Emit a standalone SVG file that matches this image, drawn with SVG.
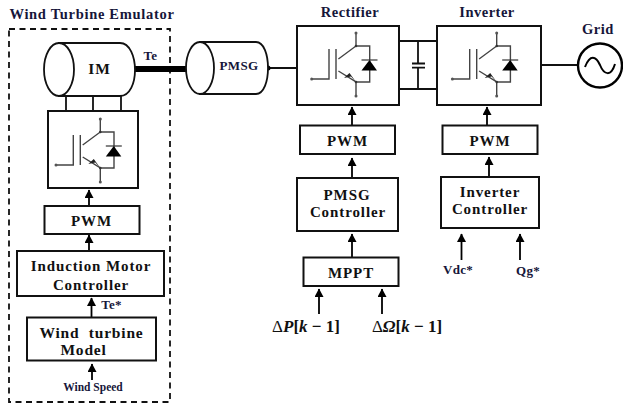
<svg xmlns="http://www.w3.org/2000/svg" xmlns:xlink="http://www.w3.org/1999/xlink" width="623" height="405" viewBox="0 0 623 405">
<style>
text{font-family:"Liberation Serif","Times New Roman",serif;font-weight:bold;fill:#111;text-anchor:middle}
.b{fill:#fff;stroke:#111;stroke-width:2}
.c{fill:#fff;stroke:#111;stroke-width:1.8}
.w{fill:none;stroke:#111;stroke-width:1.8}
.a{fill:none;stroke:#000;stroke-width:1.8;marker-end:url(#ah)}
.s{fill:none;stroke:#444;stroke-width:1.4}
.t15{font-size:15.500px;letter-spacing:.8px}
.t14{font-size:15px;letter-spacing:.9px}
.h{font-size:14.500px;letter-spacing:.5px;fill:#16163a}
.t11{font-size:13px;letter-spacing:.3px;fill:#16163a}
</style>
<defs>
<marker id="ah" markerUnits="userSpaceOnUse" markerWidth="10" markerHeight="10" refX="8" refY="4.500" orient="auto"><path d="M0 0L8.500 4.500L0 9Z" fill="#000"/></marker>
<g id="igbt">
<path class="s" d="M0 0V13L-17.600 26M-20 16V46M-27 16V46H-44.300M-17.600 38L0 49V63M0 13H13.700V49H0"/>
<path d="M-5 43.500L-12 45L-6.500 40L0 49Z" fill="#222"/>
<path d="M5.500 37.500H21L13.500 27Z" fill="#000"/>
<path d="M5.500 27H21.500" stroke="#333" stroke-width="1.200"/>
<circle r="1.500" fill="#555"/><circle cy="63" r="1.500" fill="#555"/><circle cx="-44.300" cy="46" r="1.500" fill="#555"/><circle cy="13" r="1.300" fill="#333"/><circle cy="49" r="1.300" fill="#333"/>
</g>
</defs>

<rect id="emulator-frame" x="9" y="29" width="161" height="373" fill="none" stroke="#111" stroke-width="1.800" stroke-dasharray="6 4.500"/>
<text x="92" y="19" class="h" style="letter-spacing:.7px">Wind Turbine Emulator</text>

<g id="connectors">
<path d="M134 69H187" stroke="#000" stroke-width="6" stroke-linecap="round"/>
<path class="w" d="M66 96V111M93 96V111M121 96V111"/>
<path class="w" d="M268 68H297M399 41H437M399 89H437M418 41V63.500M418 67.700V89M541 65H578"/>
<path class="w" d="M412 63.500H425M412 67.700H425"/>
<circle cx="268" cy="68" r="2.500" fill="#000"/>
<path class="a" d="M89 206V190"/>
<path class="a" d="M89 251V235"/>
<path class="a" d="M91.500 317V298"/>
<path class="a" d="M92 380V364"/>
<path class="a" d="M352 125V107"/>
<path class="a" d="M352 178V158"/>
<path class="a" d="M352 257V234"/>
<path class="a" d="M487 125V107"/>
<path class="a" d="M489 177V157"/>
<path class="a" d="M319 314V289"/>
<path class="a" d="M382 314V289"/>
<path class="a" d="M461.500 260V234"/>
<path class="a" d="M520 260V234"/>
</g>

<g id="im">
<path class="c" d="M59 43H120C130 43 135 57 135 70C135 83 130 96 120 96H59Z"/>
<ellipse class="c" cx="59" cy="69.500" rx="15" ry="26.500"/>
<text x="99.500" y="74" class="t15">IM</text>
</g>
<text id="te" x="150.500" y="60" class="t11">Te</text>

<g id="pmsg">
<path class="c" d="M200 42H256C264 42 268 55 268 68C268 81 264 94 256 94H200Z"/>
<ellipse class="c" cx="200" cy="68" rx="14" ry="26"/>
<text x="239" y="70" class="t11">PMSG</text>
</g>

<g id="converter-left"><rect class="b" x="48" y="111" width="90" height="77"/><use xlink:href="#igbt" href="#igbt" x="100.300" y="119"/></g>
<g id="pwm-left"><rect class="b" x="44.500" y="206" width="95" height="28"/><text x="91.500" y="226" class="t14">PWM</text></g>
<g id="im-controller"><rect class="b" x="17" y="251" width="147" height="45"/><text x="91" y="271" class="t14">Induction Motor</text><text x="91" y="290" class="t14">Controller</text></g>
<text id="te-star" x="111.500" y="309" class="t11">Te*</text>
<g id="wt-model"><rect class="b" x="27" y="317.500" width="129" height="43"/><text x="91.500" y="338" class="t15" xml:space="preserve">Wind  turbine</text><text x="83.500" y="355" class="t15">Model</text></g>
<text id="wind-speed" x="93" y="391" class="t11" style="font-size:11.500px;letter-spacing:0">Wind Speed</text>

<text x="350" y="17" class="h">Rectifier</text>
<g id="rectifier"><rect class="b" x="297" y="26" width="102" height="79"/><use xlink:href="#igbt" href="#igbt" x="356" y="33"/></g>
<g id="pwm-rect"><rect class="b" x="300" y="125.500" width="95" height="28.500"/><text x="347.500" y="146" class="t14">PWM</text></g>
<g id="pmsg-controller"><rect class="b" x="297" y="178" width="101" height="53"/><text x="347" y="200" class="t14">PMSG</text><text x="348" y="217" class="t14">Controller</text></g>
<g id="mppt"><rect class="b" x="303.500" y="257.500" width="95" height="28.500"/><text x="351" y="278" class="t14">MPPT</text></g>
<text id="dp" x="306" y="332" style="font-size:17px"><tspan style="font-weight:normal">Δ</tspan><tspan font-style="italic">P</tspan>[<tspan font-style="italic">k</tspan> − 1]</text>
<text id="dw" x="407" y="332" style="font-size:17px"><tspan style="font-weight:normal">Δ</tspan><tspan font-style="italic">Ω</tspan>[<tspan font-style="italic">k</tspan> − 1]</text>

<text x="487" y="17" class="h">Inverter</text>
<g id="inverter"><rect class="b" x="437" y="26" width="104" height="79"/><use xlink:href="#igbt" href="#igbt" x="496.700" y="33"/></g>
<g id="pwm-inv"><rect class="b" x="442.500" y="125.500" width="95" height="28.500"/><text x="490" y="146" class="t14">PWM</text></g>
<g id="inv-controller"><rect class="b" x="441" y="177" width="98" height="51"/><text x="490" y="197" class="t14">Inverter</text><text x="490" y="214" class="t14">Controller</text></g>
<text id="vdc" x="458" y="274" class="t11">Vdc*</text>
<text id="qg" x="528" y="275" class="t11">Qg*</text>

<text x="598" y="34" class="h">Grid</text>
<g id="grid"><circle cx="600" cy="65.500" r="22" fill="#fff" stroke="#000" stroke-width="2.400"/><path d="M585 67C590 54 596 56 600 65C604 75 611 77 615 64" fill="none" stroke="#000" stroke-width="2"/></g>
</svg>
